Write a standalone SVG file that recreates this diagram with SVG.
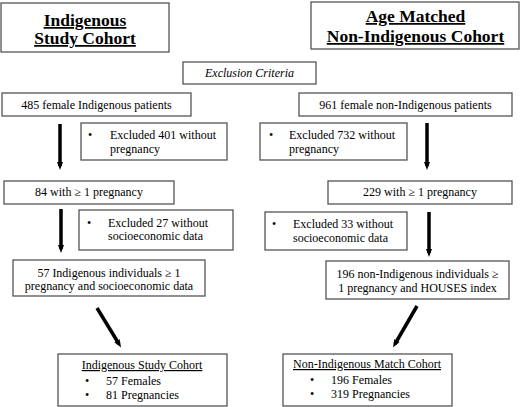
<svg xmlns="http://www.w3.org/2000/svg" width="520" height="407" viewBox="0 0 520 407">
<defs>
<style>
.box{fill:#fff;stroke:#555;stroke-width:1.3}
.t{font-family:"Liberation Serif","Times New Roman",serif;font-size:12px;fill:#000}
.c{text-anchor:middle}
.h{font-family:"Liberation Serif","Times New Roman",serif;font-size:17.5px;font-weight:bold;text-anchor:middle;text-decoration:underline;fill:#000}
.u{text-decoration:underline}
.i{font-style:italic}
.arr{stroke:#000;stroke-width:3.5;fill:none;marker-end:url(#ah)}
</style>
<marker id="ah" markerUnits="userSpaceOnUse" viewBox="0 0 8 8" refX="4" refY="4" markerWidth="8" markerHeight="8" orient="auto">
<path d="M0,1 L8,4 L0,7 Z" fill="#000"/>
</marker>
</defs>
<rect width="520" height="407" fill="#fff"/>
<g id="title-indigenous">
<rect class="box" x="1" y="3" width="168" height="49"/>
<text class="h" x="85" y="26">Indigenous</text>
<text class="h" x="85" y="44">Study Cohort</text>
</g>
<g id="title-nonindigenous">
<rect class="box" x="311" y="2" width="208" height="47"/>
<text class="h" x="415.5" y="22">Age Matched</text>
<text class="h" x="415.5" y="42">Non-Indigenous Cohort</text>
</g>
<g id="exclusion-criteria">
<rect class="box" x="183" y="62" width="133" height="22"/>
<text class="t c i" x="249.5" y="77">Exclusion Criteria</text>
</g>
<g id="n485">
<rect class="box" x="2" y="93" width="189" height="23"/>
<text class="t c" x="96.5" y="109">485 female Indigenous patients</text>
</g>
<g id="n961">
<rect class="box" x="299" y="93" width="213" height="23"/>
<text class="t c" x="405.5" y="109">961 female non-Indigenous patients</text>
</g>
<g id="ex401">
<rect class="box" x="81" y="123" width="146" height="37"/>
<text class="t" x="88" y="139">•</text>
<text class="t" x="110" y="139">Excluded 401 without</text>
<text class="t" x="110" y="153">pregnancy</text>
</g>
<g id="ex732">
<rect class="box" x="260" y="123" width="147" height="37"/>
<text class="t" x="269" y="139">•</text>
<text class="t" x="289" y="139">Excluded 732 without</text>
<text class="t" x="289" y="153">pregnancy</text>
</g>
<g id="n84">
<rect class="box" x="4" y="181" width="170" height="23"/>
<text class="t c" x="89" y="196">84 with ≥ 1 pregnancy</text>
</g>
<g id="n229">
<rect class="box" x="328" y="181" width="184" height="23"/>
<text class="t c" x="420" y="196">229 with ≥ 1 pregnancy</text>
</g>
<g id="ex27">
<rect class="box" x="79" y="210" width="154" height="40"/>
<text class="t" x="87" y="227">•</text>
<text class="t" x="108" y="227">Excluded 27 without</text>
<text class="t" x="108" y="240">socioeconomic data</text>
</g>
<g id="ex33">
<rect class="box" x="265" y="212" width="142" height="38"/>
<text class="t" x="272" y="228">•</text>
<text class="t" x="293" y="228">Excluded 33 without</text>
<text class="t" x="293" y="242">socioeconomic data</text>
</g>
<g id="n57">
<rect class="box" x="13" y="260" width="192" height="36"/>
<text class="t c" x="109" y="277">57 Indigenous individuals ≥ 1</text>
<text class="t c" x="109" y="290">pregnancy and socioeconomic data</text>
</g>
<g id="n196">
<rect class="box" x="326" y="261" width="183" height="38"/>
<text class="t c" x="417.5" y="278">196 non-Indigenous individuals ≥</text>
<text class="t c" x="417.5" y="292">1 pregnancy and HOUSES index</text>
</g>
<g id="cohort-indigenous">
<rect class="box" x="58" y="354" width="169" height="52"/>
<text class="t c u" x="142" y="369">Indigenous Study Cohort</text>
<text class="t" x="85" y="385">•</text>
<text class="t" x="106" y="385">57 Females</text>
<text class="t" x="85" y="399">•</text>
<text class="t" x="106" y="399">81 Pregnancies</text>
</g>
<g id="cohort-nonindigenous">
<rect class="box" x="283" y="354" width="169" height="52"/>
<text class="t c u" x="367" y="368">Non-Indigenous Match Cohort</text>
<text class="t" x="310" y="384">•</text>
<text class="t" x="331" y="384">196 Females</text>
<text class="t" x="310" y="398">•</text>
<text class="t" x="331" y="398">319 Pregnancies</text>
</g>
<g id="connectors">
<line class="arr" x1="60" y1="124" x2="60" y2="166"/>
<line class="arr" x1="427" y1="123" x2="427" y2="166"/>
<line class="arr" x1="61" y1="209" x2="61" y2="249"/>
<line class="arr" x1="429" y1="212" x2="429" y2="253"/>
<line class="arr" x1="97" y1="308" x2="119" y2="344"/>
<line class="arr" x1="417" y1="306" x2="395" y2="344"/>
</g>
</svg>
